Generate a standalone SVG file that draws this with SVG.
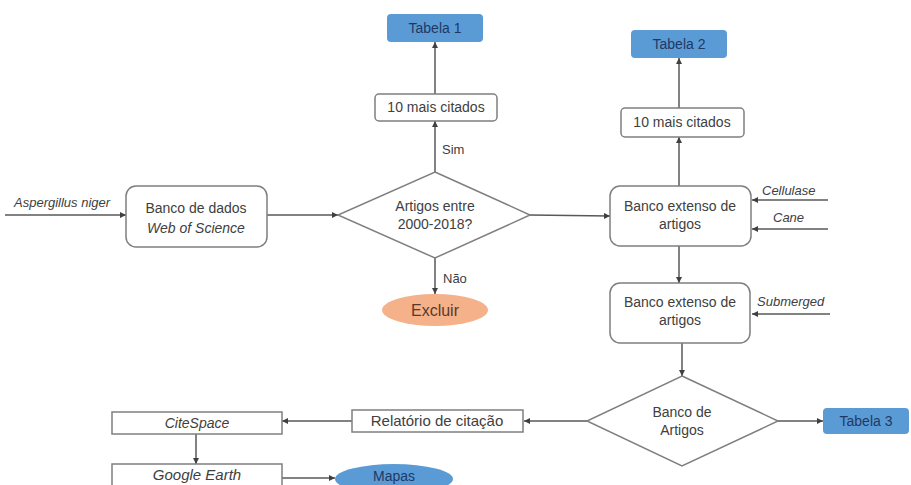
<svg xmlns="http://www.w3.org/2000/svg" width="911" height="485" viewBox="0 0 911 485">
<defs>
<marker id="ah" viewBox="0 0 10 10" refX="10" refY="5" markerWidth="6" markerHeight="6" orient="auto" markerUnits="userSpaceOnUse">
<path d="M0,0 L10,5 L0,10 z" fill="#404040"/>
</marker>
<style>
.ln{stroke:#595959;stroke-width:1.5;fill:none;marker-end:url(#ah)}
.bx{fill:#fff;stroke:#7f7f7f;stroke-width:1.5}
.bl{fill:#5B9BD5;stroke:none}
.t{font-family:"Liberation Sans","Open Sans",Arial,sans-serif;font-size:14px;fill:#404040;text-anchor:middle}
.tn{font-family:"Liberation Sans","Open Sans",Arial,sans-serif;font-size:14px;fill:#1F3864;text-anchor:middle}
.i{font-style:italic}
.l{text-anchor:start}
</style>
</defs>
<rect width="911" height="485" fill="#fff"/>
<g id="connectors">
<line class="ln" x1="5" y1="215" x2="126" y2="215"/>
<line class="ln" x1="267" y1="215" x2="338" y2="215"/>
<line class="ln" x1="435" y1="172" x2="435" y2="121"/>
<line class="ln" x1="435" y1="94" x2="435" y2="42"/>
<line class="ln" x1="435" y1="258" x2="435" y2="294"/>
<line class="ln" x1="530" y1="215" x2="610" y2="216"/>
<line class="ln" x1="679" y1="186" x2="679" y2="137"/>
<line class="ln" x1="679" y1="108" x2="679" y2="58"/>
<line class="ln" x1="828" y1="200" x2="752" y2="200"/>
<line class="ln" x1="828" y1="229" x2="752" y2="229"/>
<line class="ln" x1="679" y1="246" x2="679" y2="283"/>
<line class="ln" x1="830" y1="314" x2="752" y2="314"/>
<line class="ln" x1="682" y1="343" x2="682" y2="376"/>
<line class="ln" x1="778" y1="421" x2="823" y2="421"/>
<line class="ln" x1="587" y1="421" x2="524" y2="421"/>
<line class="ln" x1="352" y1="421" x2="282" y2="421"/>
<line class="ln" x1="196" y1="434" x2="196" y2="464"/>
<line class="ln" x1="282" y1="478" x2="335" y2="478"/>
</g>
<g id="lbl-asp"><text class="t i l" x="14" y="207" style="font-size:13px">Aspergillus niger</text></g>
<g id="lbl-sim"><text class="t l" x="442" y="154" style="font-size:13px">Sim</text></g>
<g id="lbl-nao"><text class="t l" x="443" y="283" style="font-size:13px">Não</text></g>
<g id="lbl-cell"><text class="t i l" x="762" y="195" style="font-size:13px">Cellulase</text></g>
<g id="lbl-cane"><text class="t i l" x="773" y="222" style="font-size:13px">Cane</text></g>
<g id="lbl-sub"><text class="t i l" x="757" y="306" style="font-size:13px">Submerged</text></g>
<g id="n-wos">
<rect class="bx" x="126" y="186" width="141" height="61" rx="10"/>
<text class="t" x="196" y="213">Banco de dados</text>
<text class="t i" x="196" y="233">Web of Science</text>
</g>
<g id="n-dec1">
<polygon class="bx" points="435,172 530,215 435,258 338,215"/>
<text class="t" x="435" y="211">Artigos entre</text>
<text class="t" x="435" y="229">2000-2018?</text>
</g>
<g id="n-mais1">
<rect class="bx" x="375" y="94" width="122" height="27" rx="4"/>
<text class="t" x="436" y="112">10 mais citados</text>
</g>
<g id="n-tab1">
<rect class="bl" x="387" y="14" width="96" height="28" rx="4"/>
<text class="tn" x="435" y="33">Tabela 1</text>
</g>
<g id="n-excl">
<ellipse cx="435" cy="310" rx="53" ry="16" fill="#F4B18A"/>
<text class="t" x="435" y="316" style="font-size:16px;fill:#5a3a2a">Excluir</text>
</g>
<g id="n-banco1">
<rect class="bx" x="610" y="186" width="141" height="60" rx="10"/>
<text class="t" x="680" y="211">Banco extenso de</text>
<text class="t" x="680" y="229">artigos</text>
</g>
<g id="n-mais2">
<rect class="bx" x="621" y="108" width="123" height="29" rx="4"/>
<text class="t" x="682" y="127">10 mais citados</text>
</g>
<g id="n-tab2">
<rect class="bl" x="631" y="30" width="96" height="28" rx="4"/>
<text class="tn" x="679" y="49">Tabela 2</text>
</g>
<g id="n-banco2">
<rect class="bx" x="610" y="283" width="140" height="60" rx="10"/>
<text class="t" x="680" y="307">Banco extenso de</text>
<text class="t" x="680" y="325">artigos</text>
</g>
<g id="n-dec2">
<polygon class="bx" points="682,376 778,421 682,466 587,421"/>
<text class="t" x="682" y="417">Banco de</text>
<text class="t" x="682" y="435">Artigos</text>
</g>
<g id="n-tab3">
<rect class="bl" x="823" y="408" width="86" height="26" rx="4"/>
<text class="tn" x="866" y="426">Tabela 3</text>
</g>
<g id="n-rel">
<rect class="bx" x="352" y="410" width="171" height="22"/>
<text class="t" x="437" y="426" style="font-size:15px">Relatório de citação</text>
</g>
<g id="n-cite">
<rect class="bx" x="112" y="412" width="170" height="22"/>
<text class="t i" x="197" y="428" style="font-size:14px">CiteSpace</text>
</g>
<g id="n-ge">
<rect class="bx" x="112" y="464" width="170" height="30"/>
<text class="t i" x="197" y="480" style="font-size:15px">Google Earth</text>
</g>
<g id="n-mapas">
<ellipse cx="394" cy="479" rx="59" ry="15" fill="#5B9BD5"/>
<text class="tn" x="394" y="481" style="font-size:14px">Mapas</text>
</g>
</svg>
